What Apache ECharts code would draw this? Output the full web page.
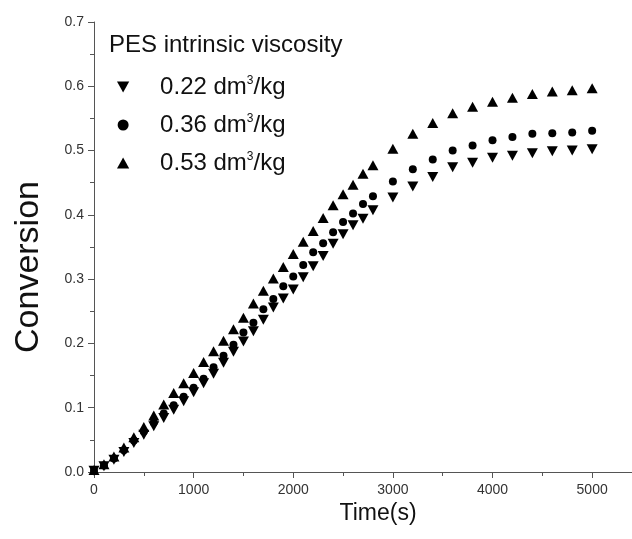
<!DOCTYPE html>
<html>
<head>
<meta charset="utf-8">
<script src="https://cdn.jsdelivr.net/npm/echarts@6/dist/echarts.min.js"></script>
<style>
  html, body { margin: 0; padding: 0; background: #fff; }
  #main { width: 632px; height: 539px; }
</style>
</head>
<body>
<div id="main"></div>
<script>
// time points: every 100 s up to 2800, then every 200 s
const timeS = [0, 100, 200, 300, 400, 500, 600, 700, 800, 900,
  1000, 1100, 1200, 1300, 1400, 1500, 1600, 1700, 1800, 1900,
  2000, 2100, 2200, 2300, 2400, 2500, 2600, 2700, 2800,
  3000, 3200, 3400, 3600, 3800, 4000, 4200, 4400, 4600, 4800, 5000];

const conv022 = [0.002, 0.009, 0.019, 0.031, 0.045, 0.058, 0.071, 0.084, 0.097, 0.110,
  0.124, 0.138, 0.153, 0.170, 0.187, 0.203, 0.219, 0.237, 0.256, 0.270,
  0.284, 0.303, 0.320, 0.336, 0.355, 0.370, 0.384, 0.394, 0.407,
  0.427, 0.444, 0.459, 0.474, 0.481, 0.489, 0.492, 0.496, 0.499, 0.500, 0.502];

const conv036 = [0.002, 0.010, 0.021, 0.034, 0.049, 0.063, 0.077, 0.091, 0.104, 0.117,
  0.131, 0.145, 0.163, 0.181, 0.198, 0.217, 0.232, 0.253, 0.269, 0.289,
  0.304, 0.322, 0.342, 0.356, 0.373, 0.389, 0.402, 0.417, 0.429,
  0.452, 0.471, 0.486, 0.500, 0.508, 0.516, 0.521, 0.526, 0.527, 0.528, 0.531];

const conv053 = [0.003, 0.012, 0.024, 0.038, 0.054, 0.070, 0.088, 0.105, 0.123, 0.138,
  0.154, 0.171, 0.188, 0.204, 0.222, 0.240, 0.262, 0.282, 0.301, 0.319,
  0.339, 0.358, 0.375, 0.395, 0.415, 0.432, 0.447, 0.464, 0.477,
  0.503, 0.526, 0.543, 0.558, 0.568, 0.576, 0.582, 0.588, 0.592, 0.594, 0.597];

const seriesNames = ['0.22 dm³/kg', '0.36 dm³/kg', '0.53 dm³/kg'];

const downTri = 'path://M0,0 L10,0 L5,9 Z';
const upTri = 'path://M5,0 L10,9 L0,9 Z';

function pairs(ys) {
  return timeS.map((t, i) => [t, ys[i]]);
}

const chartDom = document.getElementById('main');
const myChart = echarts.init(chartDom);

const font = 'Liberation Sans, Arial, sans-serif';

const option = {
  animation: false,
  textStyle: { fontFamily: font },
  title: {
    text: 'PES intrinsic viscosity',
    left: 104,
    top: 28,
    textStyle: { fontSize: 24, fontWeight: 'normal', color: '#111', fontFamily: font }
  },
  legend: {
    orient: 'vertical',
    left: 112,
    top: 70,
    itemWidth: 64,
    itemHeight: 11,
    itemGap: 14,
    data: seriesNames,
    formatter: name => name.replace('³', '{sup|3}'),
    textStyle: {
      fontSize: 24,
      color: '#111',
      fontFamily: font,
      rich: {
        sup: { fontSize: 12, padding: [0, 0, 12, 0], color: '#111', fontFamily: font }
      }
    }
  },
  grid: {
    left: 94,
    right: -2,
    top: 22,
    bottom: 67
  },
  xAxis: [
    {
      type: 'value',
      min: 0,
      max: 5400,
      interval: 1000,
      name: 'Time(s)',
      nameLocation: 'middle',
      nameGap: 30,
      nameTextStyle: { fontSize: 23, color: '#111', fontFamily: font, padding: [0, 0, 0, 30] },
      splitLine: { show: false },
      axisLine: { lineStyle: { color: '#555', width: 1 } },
      axisTick: { length: 6, lineStyle: { color: '#555' } },
      axisLabel: {
        margin: 11,
        fontSize: 14,
        color: '#333',
        showMaxLabel: false,
        formatter: v => String(v)
      }
    },
    {
      type: 'value',
      min: 0,
      max: 5400,
      interval: 500,
      position: 'bottom',
      splitLine: { show: false },
      axisLine: { show: false },
      axisTick: { length: 4, lineStyle: { color: '#555' } },
      axisLabel: { show: false }
    }
  ],
  yAxis: {
    type: 'value',
    min: 0,
    max: 0.7,
    interval: 0.1,
    name: 'Conversion',
    nameLocation: 'middle',
    nameGap: 48,
    nameTextStyle: { fontSize: 34, color: '#111', fontFamily: font, padding: [0, 40, 0, 0] },
    splitLine: { show: false },
    axisLine: { show: true, lineStyle: { color: '#555', width: 1 } },
    axisTick: { length: 6, lineStyle: { color: '#555' } },
    minorTick: { show: true, splitNumber: 2, length: 4, lineStyle: { color: '#555' } },
    minorSplitLine: { show: false },
    axisLabel: {
      margin: 10,
      fontSize: 14,
      color: '#333',
      formatter: v => v.toFixed(1)
    }
  },
  series: [
    {
      name: seriesNames[0],
      type: 'scatter',
      symbol: downTri,
      symbolSize: [11, 10],
      itemStyle: { color: '#000', opacity: 1 },
      data: pairs(conv022)
    },
    {
      name: seriesNames[1],
      type: 'scatter',
      symbol: 'circle',
      symbolSize: 8,
      itemStyle: { color: '#000', opacity: 1 },
      data: pairs(conv036)
    },
    {
      name: seriesNames[2],
      type: 'scatter',
      symbol: upTri,
      symbolSize: [11, 10],
      itemStyle: { color: '#000', opacity: 1 },
      data: pairs(conv053)
    }
  ]
};

option && myChart.setOption(option);
</script>
</body>
</html>
